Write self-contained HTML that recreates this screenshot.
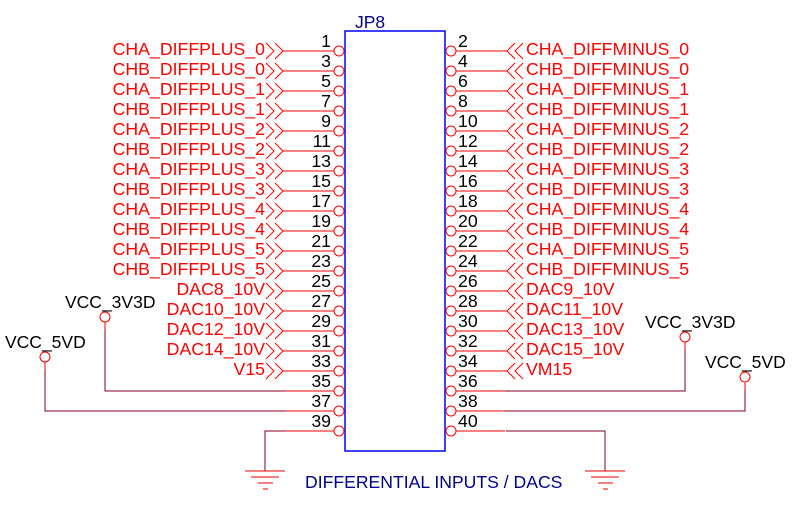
<!DOCTYPE html>
<html><head><meta charset="utf-8"><style>
html,body{margin:0;padding:0;background:#fff;}
svg{display:block;}
text{font-family:"Liberation Sans",Arial,sans-serif;}
</style></head><body>
<svg width="801" height="530" viewBox="0 0 801 530" xmlns="http://www.w3.org/2000/svg">
<defs>
<g id="L"><polyline points="266,-8 274,0 266,8" fill="none" stroke="#f00" stroke-width="1"/><polyline points="275,-8 283,0 275,8" fill="none" stroke="#f00" stroke-width="1"/><line x1="283" y1="0" x2="334" y2="0" stroke="#f00"/><circle cx="339" cy="0" r="5" fill="none" stroke="#f00"/></g>
<g id="R"><polyline points="515,-8 507,0 515,8" fill="none" stroke="#f00" stroke-width="1"/><polyline points="523,-8 515,0 523,8" fill="none" stroke="#f00" stroke-width="1"/><line x1="456" y1="0" x2="507" y2="0" stroke="#f00"/><circle cx="451" cy="0" r="5" fill="none" stroke="#f00"/></g>
<g id="Lc"><line x1="285" y1="0" x2="334" y2="0" stroke="#f00"/><circle cx="339" cy="0" r="5" fill="none" stroke="#f00"/></g>
<g id="Rc"><line x1="456" y1="0" x2="505" y2="0" stroke="#f00"/><circle cx="451" cy="0" r="5" fill="none" stroke="#f00"/></g>
</defs>
<rect x="345" y="31" width="100" height="420" fill="none" stroke="#00f" stroke-width="1.5"/>
<text x="355" y="28" font-size="17.5" fill="#00008b">JP8</text>

<use href="#L" y="51"/><use href="#L" y="71"/><use href="#L" y="91"/><use href="#L" y="111"/><use href="#L" y="131"/><use href="#L" y="151"/><use href="#L" y="171"/><use href="#L" y="191"/><use href="#L" y="211"/><use href="#L" y="231"/><use href="#L" y="251"/><use href="#L" y="271"/><use href="#L" y="291"/><use href="#L" y="311"/><use href="#L" y="331"/><use href="#L" y="351"/><use href="#L" y="371"/>
<use href="#R" y="51"/><use href="#R" y="71"/><use href="#R" y="91"/><use href="#R" y="111"/><use href="#R" y="131"/><use href="#R" y="151"/><use href="#R" y="171"/><use href="#R" y="191"/><use href="#R" y="211"/><use href="#R" y="231"/><use href="#R" y="251"/><use href="#R" y="271"/><use href="#R" y="291"/><use href="#R" y="311"/><use href="#R" y="331"/><use href="#R" y="351"/><use href="#R" y="371"/>
<use href="#Lc" y="391"/><use href="#Lc" y="411"/><use href="#Lc" y="431"/>
<use href="#Rc" y="391"/><use href="#Rc" y="411"/><use href="#Rc" y="431"/>

<g font-size="17.7" fill="#f00" text-anchor="end">
<text x="265" y="55">CHA_DIFFPLUS_0</text><text x="265" y="75">CHB_DIFFPLUS_0</text>
<text x="265" y="95">CHA_DIFFPLUS_1</text><text x="265" y="115">CHB_DIFFPLUS_1</text>
<text x="265" y="135">CHA_DIFFPLUS_2</text><text x="265" y="155">CHB_DIFFPLUS_2</text>
<text x="265" y="175">CHA_DIFFPLUS_3</text><text x="265" y="195">CHB_DIFFPLUS_3</text>
<text x="265" y="215">CHA_DIFFPLUS_4</text><text x="265" y="235">CHB_DIFFPLUS_4</text>
<text x="265" y="255">CHA_DIFFPLUS_5</text><text x="265" y="275">CHB_DIFFPLUS_5</text>
<text x="265" y="295">DAC8_10V</text><text x="265" y="315">DAC10_10V</text>
<text x="265" y="335">DAC12_10V</text><text x="265" y="355">DAC14_10V</text>
<text x="265" y="375">V15</text>
</g>
<g font-size="17.7" fill="#f00">
<text x="526" y="55">CHA_DIFFMINUS_0</text><text x="526" y="75">CHB_DIFFMINUS_0</text>
<text x="526" y="95">CHA_DIFFMINUS_1</text><text x="526" y="115">CHB_DIFFMINUS_1</text>
<text x="526" y="135">CHA_DIFFMINUS_2</text><text x="526" y="155">CHB_DIFFMINUS_2</text>
<text x="526" y="175">CHA_DIFFMINUS_3</text><text x="526" y="195">CHB_DIFFMINUS_3</text>
<text x="526" y="215">CHA_DIFFMINUS_4</text><text x="526" y="235">CHB_DIFFMINUS_4</text>
<text x="526" y="255">CHA_DIFFMINUS_5</text><text x="526" y="275">CHB_DIFFMINUS_5</text>
<text x="526" y="295">DAC9_10V</text><text x="526" y="315">DAC11_10V</text>
<text x="526" y="335">DAC13_10V</text><text x="526" y="355">DAC15_10V</text>
<text x="526" y="375">VM15</text>
</g>

<g font-size="17.7" fill="#000" text-anchor="end">
<text x="331" y="47">1</text><text x="331" y="67">3</text><text x="331" y="87">5</text><text x="331" y="107">7</text><text x="331" y="127">9</text><text x="331" y="147">11</text><text x="331" y="167">13</text><text x="331" y="187">15</text><text x="331" y="207">17</text><text x="331" y="227">19</text><text x="331" y="247">21</text><text x="331" y="267">23</text><text x="331" y="287">25</text><text x="331" y="307">27</text><text x="331" y="327">29</text><text x="331" y="347">31</text><text x="331" y="367">33</text><text x="331" y="387">35</text><text x="331" y="407">37</text><text x="331" y="427">39</text>
</g>
<g font-size="17.7" fill="#000">
<text x="458" y="47">2</text><text x="458" y="67">4</text><text x="458" y="87">6</text><text x="458" y="107">8</text><text x="458" y="127">10</text><text x="458" y="147">12</text><text x="458" y="167">14</text><text x="458" y="187">16</text><text x="458" y="207">18</text><text x="458" y="227">20</text><text x="458" y="247">22</text><text x="458" y="267">24</text><text x="458" y="287">26</text><text x="458" y="307">28</text><text x="458" y="327">30</text><text x="458" y="347">32</text><text x="458" y="367">34</text><text x="458" y="387">36</text><text x="458" y="407">38</text><text x="458" y="427">40</text>
</g>

<g fill="none" stroke="#800020" stroke-width="1">
<polyline points="105,330 105,391 286,391"/>
<polyline points="45,370 45,411 286,411"/>
<polyline points="265,471 265,431 286,431"/>
<polyline points="685,350 685,391 505,391"/>
<polyline points="745,390 745,411 505,411"/>
<polyline points="605,471 605,431 506,431"/>
</g>
<g fill="none" stroke="#f00">
<circle cx="105" cy="317" r="5"/><line x1="105" y1="322" x2="105" y2="330"/>
<circle cx="45" cy="357" r="5"/><line x1="45" y1="362" x2="45" y2="370"/>
<circle cx="685" cy="337" r="5"/><line x1="685" y1="342" x2="685" y2="350"/>
<circle cx="745" cy="377" r="5"/><line x1="745" y1="382" x2="745" y2="390"/>
</g>
<g font-size="17.5" fill="#000">
<text x="65" y="308">VCC_3V3D</text>
<text x="5" y="348">VCC_5VD</text>
<text x="645" y="328">VCC_3V3D</text>
<text x="705" y="368">VCC_5VD</text>
</g>
<g stroke="#e00" stroke-width="1">
<line x1="245" y1="471" x2="285" y2="471"/><line x1="251" y1="477" x2="279" y2="477"/><line x1="258" y1="483" x2="273" y2="483"/><line x1="263" y1="489" x2="268" y2="489"/>
<line x1="585" y1="471" x2="625" y2="471"/><line x1="591" y1="477" x2="619" y2="477"/><line x1="598" y1="483" x2="613" y2="483"/><line x1="603" y1="489" x2="608" y2="489"/>
</g>
<text x="305" y="488" font-size="17.6" fill="#00008b">DIFFERENTIAL INPUTS / DACS</text>
</svg>
</body></html>
